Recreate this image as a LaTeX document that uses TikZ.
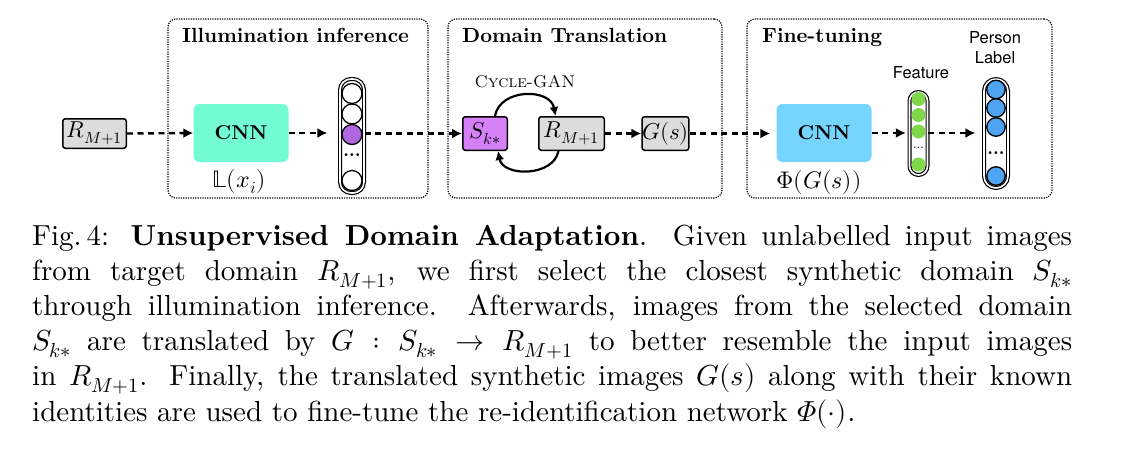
\documentclass[tikz,border=0pt]{standalone}
\usepackage{fontspec}
\usepackage{unicode-math}
\setmainfont{lmroman10}[Extension=.otf, UprightFont=*-regular, BoldFont=*-bold, ItalicFont=*-italic, BoldItalicFont=*-bolditalic, SmallCapsFont=lmromancaps10-regular]
\newfontfamily\heros{TeX Gyre Heros}
\usetikzlibrary{arrows.meta}
\definecolor{aqua}{RGB}{115,251,214}
\definecolor{sky}{RGB}{118,213,253}
\definecolor{boxgray}{RGB}{220,220,220}
\definecolor{skfill}{RGB}{214,128,248}
\definecolor{purp}{RGB}{176,102,222}
\definecolor{grn}{RGB}{126,216,74}
\definecolor{blu}{RGB}{78,163,242}
\begin{document}
\begin{tikzpicture}[x=1pt,y=-1pt,
  dbox/.style={draw, line width=1.2pt, dash pattern=on 1.2pt off 1.2pt, rounded corners=8pt, inner sep=0},
  ttl/.style={anchor=base west, inner sep=0, font=\fontsize{20.5}{24}\selectfont\bfseries},
  imgbox/.style={draw, line width=1.5pt, rounded corners=2.5pt, inner sep=0, fill=boxgray, font=\fontsize{23}{27}\selectfont},
  cnnbox/.style={rounded corners=6pt, minimum width=95pt, minimum height=58pt, inner sep=0, font=\fontsize{20}{24}\selectfont\bfseries},
  col/.style={draw, line width=1.2pt, double=white, double distance=1.6pt, inner sep=0, fill=white},
  cir/.style={circle, draw, line width=1.3pt, inner sep=0},
  dotsl/.style={inner sep=0, font=\fontsize{18}{20}\selectfont\bfseries},
  mlab/.style={inner sep=0, font=\fontsize{24}{28}\selectfont},
  slab/.style={inner sep=0, align=center, font=\heros\fontsize{16.5}{20}\selectfont},
  flow/.style={line width=2.4pt, dash pattern=on 6pt off 4.5pt, -{Latex[length=10pt,width=10pt]}},
  cyc/.style={line width=2.2pt, -{Latex[length=9pt,width=9pt]}},
]
\useasboundingbox (0,0) rectangle (1130,475);

% stage frames
\node[dbox, minimum width=260pt, minimum height=179pt] (st1) at (298,108.5) {};
\node[dbox, minimum width=274pt, minimum height=179pt] (st2) at (585,108.5) {};
\node[dbox, minimum width=305pt, minimum height=179pt] (st3) at (899.5,108.5) {};
\node[ttl] (t1) at (182,42) {Illumination inference};
\node[ttl] (t2) at (462,42) {Domain Translation};
\node[ttl] (t3) at (762,42) {Fine-tuning};

% stage 1
\node[imgbox, minimum width=63.5pt, minimum height=29.5pt] (r1) at (94.5,133.5) {$R_{M+1}$};
\node[cnnbox, fill=aqua] (cnn1) at (241,133) {CNN};
\node[mlab] (lx) at (239,182) {$\mathbb{L}(x_i)$};
\node[col, rounded corners=11pt, minimum width=24pt, minimum height=114pt] (col1) at (352,136) {};
\node[cir, fill=white, minimum size=20pt] (a1) at (352,93.5) {};
\node[cir, fill=white, minimum size=20pt] (a2) at (352,114) {};
\node[cir, fill=purp, minimum size=20pt] (a3) at (352,134.5) {};
\node[dotsl] (ad) at (352,155) {...};
\node[cir, fill=white, minimum size=20pt] (a5) at (352,180.5) {};

% stage 2
\node[inner sep=0, anchor=base, font=\fontsize{17}{20}\selectfont] (cg) at (525,87) {\textsc{Cycle-GAN}};
\node[imgbox, fill=skfill, minimum width=44.5pt, minimum height=33.5pt] (sk) at (485,133.5) {$S_{k*}$};
\node[imgbox, minimum width=65.5pt, minimum height=33.5pt] (r2) at (571.5,133.5) {$R_{M+1}$};
\node[imgbox, minimum width=45.5pt, minimum height=33.5pt] (gs) at (665.5,133.5) {$G(s)$};

% stage 3
\node[cnnbox, fill=sky] (cnn2) at (824,133) {CNN};
\node[mlab] (phi) at (819,182) {$\Phi(G(s))$};
\node[col, rounded corners=9pt, minimum width=18pt, minimum height=83pt] (col2) at (918.5,133.5) {};
\node[circle, fill=grn, inner sep=0, minimum size=14pt] (b1) at (918.5,99) {};
\node[circle, fill=grn, inner sep=0, minimum size=14pt] (b2) at (918.5,115) {};
\node[circle, fill=grn, inner sep=0, minimum size=14pt] (b3) at (918.5,131.5) {};
\node[inner sep=0, font=\fontsize{13}{15}\selectfont] (bd) at (918.5,148) {...};
\node[circle, fill=grn, inner sep=0, minimum size=14pt] (b5) at (918.5,164.5) {};
\node[slab, anchor=base] (feat) at (921,78) {Feature};
\node[col, rounded corners=12pt, minimum width=24pt, minimum height=109pt] (col3) at (996,133.5) {};
\node[cir, fill=blu, minimum size=18.5pt] (c1) at (996,89.5) {};
\node[cir, fill=blu, minimum size=18.5pt] (c2) at (996,108) {};
\node[cir, fill=blu, minimum size=18.5pt] (c3) at (996,127) {};
\node[dotsl] (cd) at (996,153) {...};
\node[cir, fill=blu, minimum size=18.5pt] (c5) at (996,176) {};
\node[slab, anchor=base] (plab) at (995,63) {Person\\Label};

% flow arrows
\draw[flow] (r1.east) -- (cnn1.west);
\draw[flow, shorten >=12pt] (cnn1.east) -- (col1.west |- cnn1.east);
\draw[flow] (col1.east |- sk.west) -- (sk.west);
\draw[flow] (r2.east) -- (gs.west);
\draw[flow, shorten >=6pt] (gs.east) -- (cnn2.west |- gs.east);
\draw[flow, shorten >=3pt] (cnn2.east) -- (col2.west |- cnn2.east);
\draw[flow, shorten >=8pt] (col2.east |- cnn2.east) -- (col3.west |- cnn2.east);

% cycle
\draw[cyc] ([xshift=10pt]sk.north) .. controls +(5,-28) and +(-5,-28) .. ([xshift=-16pt]r2.north);
\draw[cyc] ([xshift=-13pt]r2.south) .. controls +(-5,26) and +(5,26) .. ([xshift=13pt]sk.south);

% caption
\node[inner sep=0, anchor=base west] (cap) at (32,245) {\begin{minipage}[t]{1040pt}\fontsize{29}{35.2}\selectfont
Fig.\,4: \textbf{Unsupervised Domain Adaptation}. Given unlabelled input images\linebreak
from target domain $R_{M+1}$, we first select the closest synthetic domain $S_{k*}$\linebreak
through illumination inference. Afterwards, images from the selected domain\linebreak
$S_{k*}$ are translated by $G : S_{k*} \rightarrow R_{M+1}$ to better resemble the input images\linebreak
in $R_{M+1}$. Finally, the translated synthetic images $G(s)$ along with their known\linebreak
identities are used to fine-tune the re-identification network $\symit{\Phi}(\cdot)$.
\end{minipage}};
\end{tikzpicture}
\end{document}
